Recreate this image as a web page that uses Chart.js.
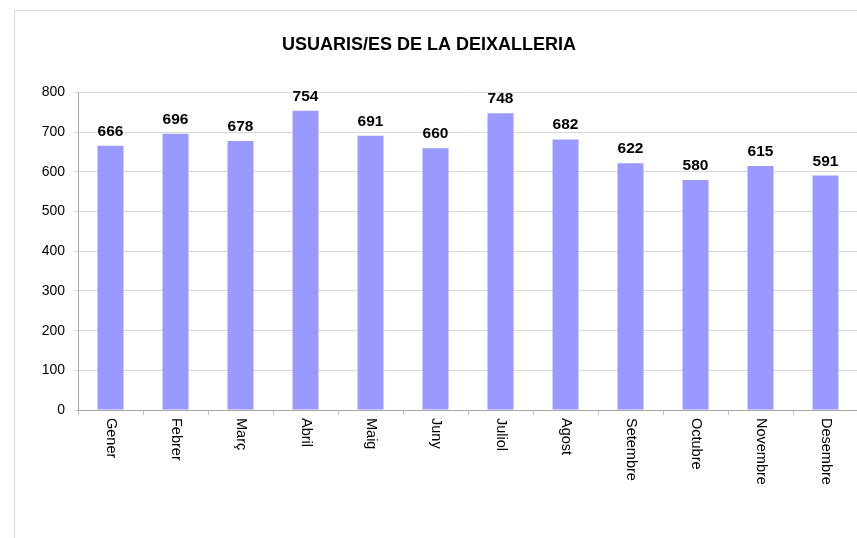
<!DOCTYPE html>
<html>
<head>
<meta charset="utf-8">
<script src="https://cdn.jsdelivr.net/npm/chart.js@4/dist/chart.umd.min.js"></script>
<style>
  html, body { margin: 0; padding: 0; background: #fff; overflow: hidden; }
  #frame { position: absolute; left: 14px; top: 10px; width: 900px; height: 600px; border: 1px solid #dcdcdc; }
  #wrap { position: absolute; left: 0; top: 0; width: 870px; height: 538px; }
</style>
</head>
<body>
<div id="frame"></div>
<div id="wrap"><canvas id="usuarisChart" width="870" height="538"></canvas></div>
<script>
// months (catalan) and visitors per month
var months = ['Gener', 'Febrer', 'Març', 'Abril', 'Maig', 'Juny', 'Juliol', 'Agost', 'Setembre', 'Octubre', 'Novembre', 'Desembre'];
var usuaris = [666, 696, 678, 754, 691, 660, 748, 682, 622, 580, 615, 591];
var yTicks = [0, 100, 200, 300, 400, 500, 600, 700, 800];

var fontName = '"Liberation Sans", Arial, sans-serif';

// numbers above the bars
var valueLabels = {
    id: 'valueLabels',
    afterDatasetsDraw: function(chart) {
        var ctx = chart.ctx;
        var meta = chart.getDatasetMeta(0);
        ctx.save();
        ctx.font = 'bold 15.5px ' + fontName;
        ctx.fillStyle = '#000';
        ctx.textAlign = 'center';
        ctx.textBaseline = 'alphabetic';
        meta.data.forEach(function(bar, i) {
            ctx.fillText(usuaris[i], bar.x, bar.y - 10);
        });
        ctx.restore();
    }
};

// month names rotated, reading top to bottom
var monthLabels = {
    id: 'monthLabels',
    afterDraw: function(chart) {
        var ctx = chart.ctx;
        var xs = chart.scales.x;
        ctx.save();
        ctx.font = '14.5px ' + fontName;
        ctx.fillStyle = '#000';
        ctx.textAlign = 'left';
        ctx.textBaseline = 'middle';
        months.forEach(function(m, i) {
            ctx.save();
            ctx.translate(xs.getPixelForTick(i), xs.top + 8);
            ctx.rotate(Math.PI / 2);
            ctx.fillText(m, 0, 0);
            ctx.restore();
        });
        ctx.restore();
    }
};

var ctx = document.getElementById('usuarisChart').getContext('2d');
new Chart(ctx, {
    type: 'bar',
    data: {
        labels: months,
        datasets: [{
            data: usuaris,
            backgroundColor: '#9999ff',
            borderWidth: 0,
            barPercentage: 0.4,
            categoryPercentage: 1
        }]
    },
    options: {
        responsive: false,
        animation: false,
        layout: { padding: { top: 10, left: 0, right: 12, bottom: 0 } },
        plugins: {
            legend: { display: false },
            tooltip: { enabled: false },
            title: {
                display: true,
                text: 'USUARIS/ES DE LA DEIXALLERIA',
                color: '#000',
                font: { family: fontName, size: 18, weight: 'bold', lineHeight: 1.2 },
                padding: { top: 24, bottom: 37 }
            }
        },
        scales: {
            x: {
                grid: { display: true, drawOnChartArea: false, drawTicks: true, tickLength: 5, color: '#bfbfbf', offset: true },
                border: { color: '#a6a6a6' },
                ticks: { display: false },
                afterFit: function(scale) { scale.height = 128; }
            },
            y: {
                min: 0,
                max: 800,
                afterBuildTicks: function(scale) {
                    scale.ticks = yTicks.map(function(v) { return { value: v }; });
                },
                grid: { color: '#d9d9d9', tickLength: 4 },
                border: { color: '#a6a6a6' },
                ticks: { color: '#000', padding: 9, font: { family: fontName, size: 14 } },
                afterFit: function(scale) { scale.width = 78; }
            }
        }
    },
    plugins: [valueLabels, monthLabels]
});
</script>
</body>
</html>
